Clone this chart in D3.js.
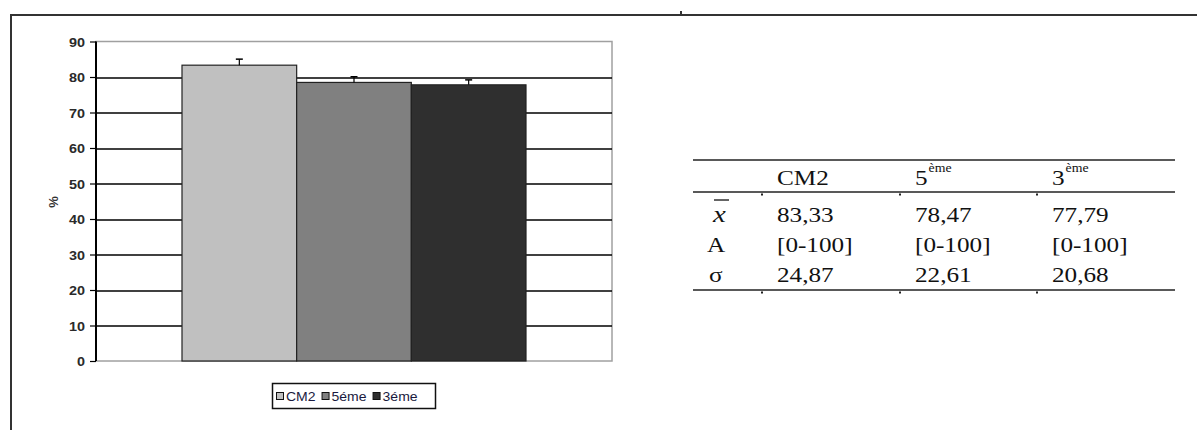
<!DOCTYPE html>
<html>
<head>
<meta charset="utf-8">
<script src="https://cdn.jsdelivr.net/npm/d3@7"></script>
<style>
  body { margin: 0; background: #fff; }
  svg { display: block; }
</style>
</head>
<body>
<svg id="chart"></svg>
<script>
// data
const categories = ["CM2", "5éme", "3éme"];
const means = [83.33, 78.47, 77.79];
const errors = [1.7, 1.6, 1.4];
const barColors = ["#c0c0c0", "#808080", "#2f2f2f"];
const yTicks = [0, 10, 20, 30, 40, 50, 60, 70, 80, 90];

const tableHeads = ["CM2", "5", "3"];
const tableSups = ["", "ème", "ème"];
const rowLabels = ["x", "A", "σ"];
const rowMean = ["83,33", "78,47", "77,79"];
const rowRange = ["[0-100]", "[0-100]", "[0-100]"];
const rowSigma = ["24,87", "22,61", "20,68"];

const W = 1197, H = 430;
const sans = "'Liberation Sans', Arial, sans-serif";
const serif = "'Liberation Serif', 'Times New Roman', serif";

const svg = d3.select('#chart').attr('width', W).attr('height', H);
svg.append('rect').attr('width', W).attr('height', H).attr('fill', '#fff');

// page frame
svg.append('path')
  .attr('d', `M11,430V15H1197M681,15V11`)
  .attr('fill', 'none').attr('stroke', '#333').attr('stroke-width', 2);

// plot area
const plot = {left: 96, top: 41.5, right: 612, bottom: 361};
const pw = plot.right - plot.left, ph = plot.bottom - plot.top;
const g = svg.append('g').attr('transform', `translate(${plot.left},${plot.top})`);

const y = d3.scaleLinear().domain([0, 90]).range([ph, 0]);
const x = d3.scaleBand().domain(categories).range([0, pw]).paddingInner(0).paddingOuter(0.75);

// plot border (grey)
g.append('rect').attr('width', pw).attr('height', ph)
  .attr('fill', 'none').attr('stroke', '#a0a0a0').attr('stroke-width', 1.5);

// gridlines
g.selectAll('.grid').data(yTicks.filter(d => d > 0 && d < 90)).join('line')
  .attr('class', 'grid')
  .attr('x1', 0).attr('x2', pw)
  .attr('y1', d => Math.round(y(d)) + 0.5).attr('y2', d => Math.round(y(d)) + 0.5)
  .attr('stroke', '#000').attr('stroke-width', 1.4);

// bars
g.selectAll('.bar').data(categories).join('rect')
  .attr('class', 'bar')
  .attr('x', d => x(d)).attr('width', x.bandwidth())
  .attr('y', (d, i) => y(means[i])).attr('height', (d, i) => ph - y(means[i]))
  .attr('fill', (d, i) => barColors[i])
  .attr('stroke', '#222').attr('stroke-width', 1.2);

// error bars
const eb = g.selectAll('.err').data(categories).join('g').attr('class', 'err')
  .attr('transform', d => `translate(${x(d) + x.bandwidth() / 2},0)`);
eb.append('line')
  .attr('y1', (d, i) => y(means[i])).attr('y2', (d, i) => y(means[i] + errors[i]))
  .attr('stroke', '#000').attr('stroke-width', 1.2);
eb.append('line')
  .attr('x1', -3.5).attr('x2', 3.5)
  .attr('y1', (d, i) => y(means[i] + errors[i])).attr('y2', (d, i) => y(means[i] + errors[i]))
  .attr('stroke', '#000').attr('stroke-width', 1.5);

// y axis
const yAxis = d3.axisLeft(y).tickValues(yTicks).tickSize(6).tickPadding(0);
const ya = g.append('g').call(yAxis);
ya.select('.domain').attr('stroke', '#000').attr('stroke-width', 2).attr('d', `M0,0V${ph}`);
ya.selectAll('.tick line').attr('stroke', '#000').attr('stroke-width', 1.2);
ya.selectAll('.tick text')
  .attr('x', null).attr('dy', null)
  .attr('transform', 'translate(-11,4.5) scale(1.2,1)')
  .attr('font-family', sans)
  .attr('font-size', 12).attr('font-weight', 'bold').attr('fill', '#2a2a2a');

// y label
svg.append('text')
  .attr('transform', 'translate(58,202) rotate(-90)')
  .attr('text-anchor', 'middle')
  .attr('font-family', sans)
  .attr('font-size', 13).attr('font-weight', 'bold').attr('fill', '#333')
  .text('%');

// legend
const lg = svg.append('g');
lg.append('rect').attr('x', 272.5).attr('y', 383.5).attr('width', 163).attr('height', 25)
  .attr('fill', '#fff').attr('stroke', '#111').attr('stroke-width', 1.5);
let lx = 276;
categories.forEach((c, i) => {
  lg.append('rect').attr('x', lx + 0.5).attr('y', 392.5).attr('width', 7).attr('height', 7)
    .attr('fill', barColors[i]).attr('stroke', '#111').attr('stroke-width', 1);
  const t = lg.append('text')
    .attr('transform', `translate(${lx + 10},400.5) scale(1.12,1)`)
    .attr('font-family', sans)
    .attr('font-size', 12.5).attr('fill', '#1a1a40')
    .text(c);
  lx += 10 + t.node().getComputedTextLength() * 1.12 + 6;
});

// table
const tb = svg.append('g');
const sx = 1.2;
[160, 192, 290].forEach(yy => {
  tb.append('line').attr('x1', 693).attr('x2', 1175).attr('y1', yy).attr('y2', yy)
    .attr('stroke', '#222').attr('stroke-width', 1.6);
});
[762, 900, 1037].forEach(xx => {
  [193.5, 291.5].forEach(yy => {
    tb.append('rect').attr('x', xx - 1).attr('y', yy).attr('width', 2).attr('height', 2).attr('fill', '#222');
  });
});
const colX = [777, 915, 1052];
function cell(txt, xx, yy, size, italic) {
  return tb.append('text')
    .attr('transform', `translate(${xx},${yy}) scale(${sx},1)`)
    .attr('font-family', serif).attr('font-size', size)
    .attr('font-style', italic ? 'italic' : 'normal')
    .attr('fill', '#111').text(txt);
}
tableHeads.forEach((h, i) => {
  const t = cell(h, colX[i], 185, 21);
  if (tableSups[i]) cell(tableSups[i], colX[i] + t.node().getComputedTextLength() * sx + 1, 172, 11.5);
});
// row labels
cell(rowLabels[0], 713, 222, 24, true);
tb.append('line').attr('x1', 714).attr('x2', 729).attr('y1', 200).attr('y2', 200)
  .attr('stroke', '#111').attr('stroke-width', 1.3);
cell(rowLabels[1], 707, 252, 21);
cell(rowLabels[2], 709, 282, 21);
[rowMean, rowRange, rowSigma].forEach((row, r) => {
  row.forEach((v, i) => cell(v, colX[i], 222 + r * 30, 21));
});
</script>
</body>
</html>
